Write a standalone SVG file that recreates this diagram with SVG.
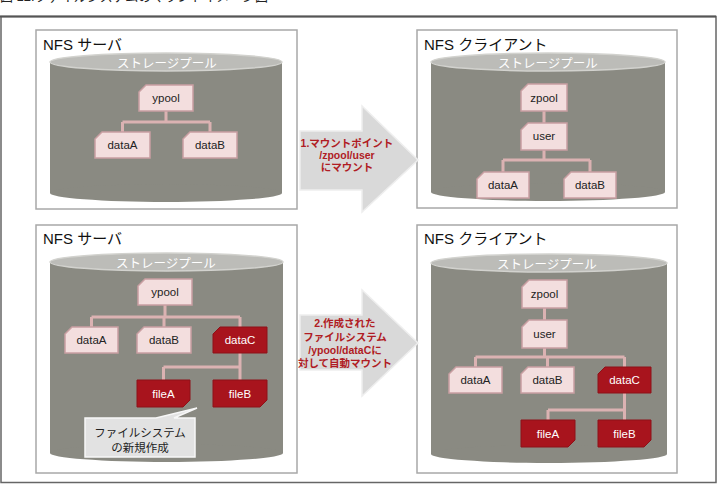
<svg xmlns="http://www.w3.org/2000/svg" width="720" height="485" viewBox="0 0 720 485">
<style>
text{font-family:"Liberation Sans","Noto Sans CJK JP",sans-serif}
.panel{fill:#fff;stroke:#a8a8a8;stroke-width:1.5}
.body{fill:#8a8a82}
.top{fill:#bcbcb8;stroke:#d2d2ce;stroke-width:1.5}
.pt{font-size:15px;fill:#111}
.sp{font-size:12.5px;fill:#fff;text-anchor:middle}
.n{fill:#f3dede;stroke:#c99fa2;stroke-width:1.5}
.r{fill:#a8141d;stroke:#8e1018;stroke-width:1}
.nt{font-size:11.5px;fill:#222;text-anchor:middle}
.rt{font-size:11.5px;fill:#fff;text-anchor:middle}
.c{stroke:#dbb2b2;stroke-width:3;fill:none}
.arrow{fill:#d9d9d9;stroke:#eeeeee;stroke-width:1.5}
.at{font-size:10.5px;font-weight:bold;fill:#b01c24;text-anchor:middle}
.co{fill:#e2e2e2;stroke:#f7f7f7;stroke-width:1.5}
.ct{font-size:11.5px;fill:#222;text-anchor:middle}
</style>
<text x="0" y="0.5" style="font-size:13px;fill:#222">図 12.ファイルシステムのマウントイメージ図</text>
<rect x="1" y="16.5" width="715" height="466" fill="none" stroke="#666" stroke-width="1.5"/>
<line x1="0" y1="16.5" x2="716" y2="16.5" stroke="#555" stroke-width="2"/>

<!-- panels -->
<g id="panel-server-1">
<rect class="panel" x="36" y="30" width="261" height="179"/>
<text class="pt" x="43" y="50">NFS サーバ</text>
<rect class="body" x="50" y="62" width="232" height="131"/>
<ellipse class="body" cx="166" cy="193" rx="116" ry="9"/>
<ellipse class="top" cx="166" cy="62" rx="116" ry="9"/>
<text class="sp" x="167" y="68">ストレージプール</text>
</g>
<g id="panel-client-1">
<rect class="panel" x="417" y="30" width="260" height="178"/>
<text class="pt" x="424" y="50">NFS クライアント</text>
<rect class="body" x="431" y="62" width="234" height="130"/>
<ellipse class="body" cx="548" cy="192" rx="117" ry="9"/>
<ellipse class="top" cx="548" cy="62" rx="117" ry="9"/>
<text class="sp" x="548" y="68">ストレージプール</text>
</g>
<g id="panel-server-2">
<rect class="panel" x="36" y="225" width="261" height="248"/>
<text class="pt" x="43" y="244">NFS サーバ</text>
<rect class="body" x="50" y="262" width="233" height="191"/>
<ellipse class="body" cx="166.5" cy="453" rx="116.5" ry="9"/>
<ellipse class="top" cx="166.5" cy="262" rx="116.5" ry="9"/>
<text class="sp" x="166" y="268">ストレージプール</text>
</g>
<g id="panel-client-2">
<rect class="panel" x="417" y="225" width="260" height="248"/>
<text class="pt" x="424" y="244">NFS クライアント</text>
<rect class="body" x="431" y="263" width="236" height="191"/>
<ellipse class="body" cx="549" cy="454" rx="118" ry="9"/>
<ellipse class="top" cx="549" cy="263" rx="118" ry="9"/>
<text class="sp" x="547" y="269">ストレージプール</text>
</g>

<!-- connectors -->
<g id="connectors">
<path class="c" d="M166 111V122M122.5 122H210M122.5 122V132M210 122V132"/>
<path class="c" d="M544 111V123M544 150V160M503 160H590M503 160V172M590 160V172"/>
<path class="c" d="M165 305V317M91.5 317H240M91.5 317V327M164 317V327M240 317V327M240 353V380M163.5 367H240M163.5 367V380"/>
<path class="c" d="M544.5 308V320M544.5 348V357M475.5 357H624.5M475.5 357V367M547.5 357V367M624.5 357V367M624.5 393V420M548 410H624.5M548 410V420"/>
</g>

<!-- arrows -->
<g id="arrow-1">
<path class="arrow" d="M300 131H362V106L418 160L362 212V190H300Z"/>
<text class="at" x="347" y="147">1.マウントポイント</text>
<text class="at" x="347" y="159">/zpool/user</text>
<text class="at" x="347" y="171">にマウント</text>
</g>
<g id="arrow-2">
<path class="arrow" d="M300 315H362V290L418 343L362 396V370H300Z"/>
<text class="at" x="345" y="327">2.作成された</text>
<text class="at" x="345" y="341">ファイルシステム</text>
<text class="at" x="345" y="354">/ypool/dataCに</text>
<text class="at" x="345" y="367">対して自動マウント</text>
</g>

<!-- top-left nodes -->
<g id="s1-ypool"><path class="n" d="M146 85H193V111H139V92Z"/><text class="nt" x="166" y="102">ypool</text></g>
<g id="s1-dataA"><path class="n" d="M102 132H150V158H95V139Z"/><text class="nt" x="122.5" y="149">dataA</text></g>
<g id="s1-dataB"><path class="n" d="M190 132H237V158H183V139Z"/><text class="nt" x="210" y="149">dataB</text></g>

<!-- top-right nodes -->
<g id="c1-zpool"><path class="n" d="M528 84H567V111H521V91Z"/><text class="nt" x="544" y="101.5">zpool</text></g>
<g id="c1-user"><path class="n" d="M528 123H567V150H521V130Z"/><text class="nt" x="544" y="140">user</text></g>
<g id="c1-dataA"><path class="n" d="M484 172H529V198H477V179Z"/><text class="nt" x="503" y="189">dataA</text></g>
<g id="c1-dataB"><path class="n" d="M571 172H616V198H564V179Z"/><text class="nt" x="590" y="189">dataB</text></g>

<!-- bottom-left nodes -->
<g id="s2-ypool"><path class="n" d="M145 279H192V305H138V286Z"/><text class="nt" x="165" y="296">ypool</text></g>
<g id="s2-dataA"><path class="n" d="M72 327H118V353H65V334Z"/><text class="nt" x="91.5" y="344">dataA</text></g>
<g id="s2-dataB"><path class="n" d="M144 327H191V353H137V334Z"/><text class="nt" x="164" y="344">dataB</text></g>
<g id="s2-dataC"><path class="r" d="M220 327H267V353H213V334Z"/><text class="rt" x="240" y="344">dataC</text></g>
<g id="s2-fileA"><path class="r" d="M137 380H190V400L183 407H137Z"/><text class="rt" x="163.5" y="397.5">fileA</text></g>
<g id="s2-fileB"><path class="r" d="M213 380H267V400L260 407H213Z"/><text class="rt" x="240" y="397.5">fileB</text></g>
<g id="s2-callout">
<path class="co" d="M85 418H156L197 408L174 418H195V457H85Z"/>
<text class="ct" x="140" y="437">ファイルシステム</text>
<text class="ct" x="140" y="452">の新規作成</text>
</g>

<!-- bottom-right nodes -->
<g id="c2-zpool"><path class="n" d="M529 280H567V308H522V287Z"/><text class="nt" x="544.5" y="298">zpool</text></g>
<g id="c2-user"><path class="n" d="M529 320H567V348H522V327Z"/><text class="nt" x="544.5" y="338">user</text></g>
<g id="c2-dataA"><path class="n" d="M456 367H502V393H449V374Z"/><text class="nt" x="475.5" y="384">dataA</text></g>
<g id="c2-dataB"><path class="n" d="M528 367H574V393H521V374Z"/><text class="nt" x="547.5" y="384">dataB</text></g>
<g id="c2-dataC"><path class="r" d="M605 367H651V393H598V374Z"/><text class="rt" x="624.5" y="384">dataC</text></g>
<g id="c2-fileA"><path class="r" d="M521 420H575V440L568 447H521Z"/><text class="rt" x="548" y="437.5">fileA</text></g>
<g id="c2-fileB"><path class="r" d="M598 420H651V440L644 447H598Z"/><text class="rt" x="624.5" y="437.5">fileB</text></g>
</svg>
